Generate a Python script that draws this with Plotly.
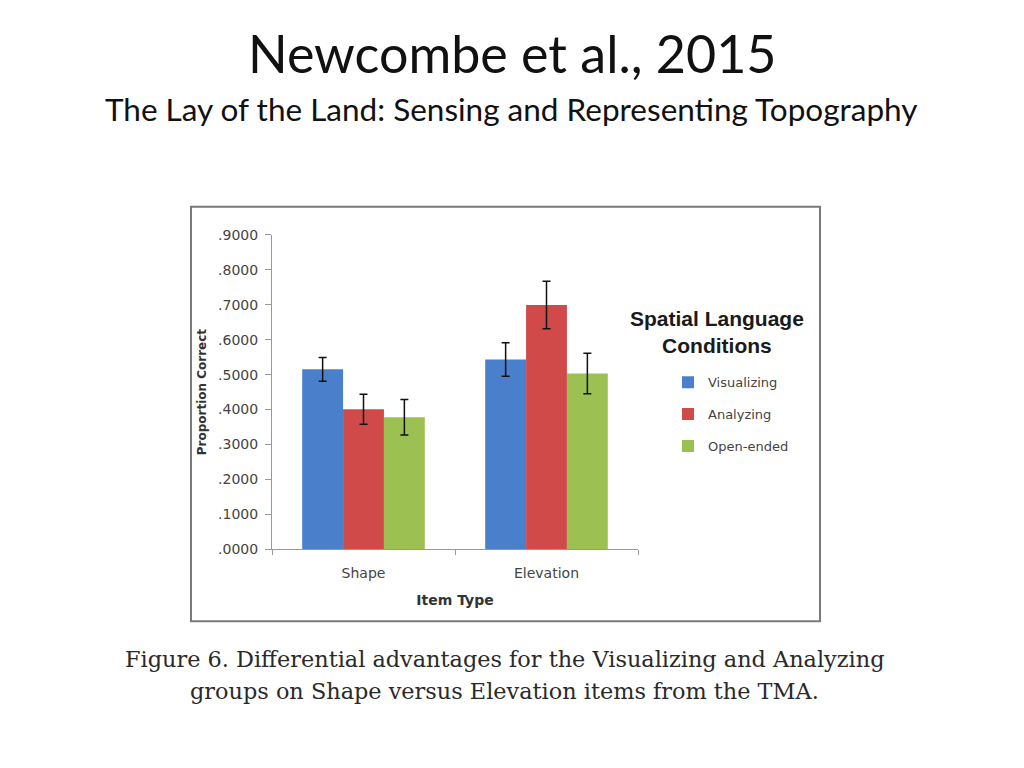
import plotly.graph_objects as go

# values
item_types = ["Shape", "Elevation"]
conditions = ["Visualizing", "Analyzing", "Open-ended"]
colors = ["#4a7fcb", "#d14a4a", "#9cc152"]
means = {
    "Visualizing": [0.515, 0.543],
    "Analyzing": [0.401, 0.699],
    "Open-ended": [0.378, 0.503],
}
errors = {
    "Visualizing": [0.034, 0.048],
    "Analyzing": [0.043, 0.068],
    "Open-ended": [0.051, 0.058],
}
y_ticks = [0.0, 0.1, 0.2, 0.3, 0.4, 0.5, 0.6, 0.7, 0.8, 0.9]
y_tick_labels = [("%.4f" % v)[1:] for v in y_ticks]

# the page body keeps an 8px margin all round, so the figure is made
# 16px smaller to fit the window without scrolling
OFF = 8
W, H = 1024 - 2 * OFF, 768 - 2 * OFF


def px(x):
    return (x - OFF) / W


def py(y):
    # screen y of the slide -> paper fraction (small vertical squeeze seen in the capture)
    y = (y - 6.6) / 0.9825
    return 1 - (y - OFF) / H


fig = go.Figure()
for i, c in enumerate(conditions):
    fig.add_trace(go.Bar(
        x=item_types, y=means[c], name=c, legendgroup=c,
        marker=dict(color=colors[i], line=dict(width=0)),
        error_y=dict(type="data", array=errors[c], color="#111111",
                     thickness=1.5, width=4),
    ))

fig.update_layout(
    width=W, height=H,
    margin=dict(l=0, r=0, t=0, b=0),
    paper_bgcolor="white", plot_bgcolor="white",
    barmode="group", bargap=0.33, bargroupgap=0,
    showlegend=True,
    legend=dict(x=px(668), y=py(367), xanchor="left", yanchor="top",
                font=dict(family="DejaVu Sans", size=13, color="#444444"),
                tracegroupgap=12, itemwidth=30, bgcolor="rgba(0,0,0,0)"),
    xaxis=dict(domain=[px(272), px(638)], showline=True, linecolor="#999999",
               linewidth=1, ticks="outside", tickson="boundaries", ticklen=5,
               tickcolor="#999999", ticklabelstandoff=11,
               tickfont=dict(family="DejaVu Sans", size=14, color="#444444"),
               title=dict(text="<b>Item Type</b>", standoff=14,
                          font=dict(family="DejaVu Sans", size=14, color="#333333"))),
    yaxis=dict(domain=[py(550), py(234)], range=[0, 0.9], showline=True,
               linecolor="#999999", linewidth=1, ticks="outside", ticklen=6,
               tickcolor="#999999", showgrid=False, zeroline=False,
               tickvals=y_ticks, ticktext=y_tick_labels, ticklabelstandoff=4,
               tickfont=dict(family="DejaVu Sans", size=14, color="#444444"),
               title=dict(text="<b>Proportion Correct</b>", standoff=8,
                          font=dict(family="DejaVu Sans", size=12, color="#333333"))),
    font=dict(family="Lato"),
)

# slide titles
fig.add_annotation(x=px(512), y=py(52), xref="paper", yref="paper", showarrow=False,
                   xanchor="center", yanchor="middle",
                   text="Newcombe et al., 2015",
                   font=dict(family="Lato", size=52, color="#111111"))
fig.add_annotation(x=px(511), y=py(108), xref="paper", yref="paper", showarrow=False,
                   xanchor="center", yanchor="middle",
                   text="The Lay of the Land: Sensing and Representing Topography",
                   font=dict(family="Lato", size=31.5, color="#111111"))

# legend heading
fig.add_annotation(x=px(717), y=py(332), xref="paper", yref="paper", showarrow=False,
                   xanchor="center", yanchor="middle",
                   text="<b>Spatial Language<br>Conditions</b>", align="center",
                   font=dict(family="Liberation Sans", size=21, color="#1a1a1a"))

# caption, two lines
caption = ["Figure 6. Differential advantages for the Visualizing and Analyzing",
           "groups on Shape versus Elevation items from the TMA."]
for line, yy in zip(caption, [660, 692]):
    fig.add_annotation(x=px(504), y=py(yy), xref="paper", yref="paper", showarrow=False,
                       xanchor="center", yanchor="middle", text=line,
                       font=dict(family="DejaVu Serif", size=22.4, color="#2a2a2a"))

# frame of the pasted figure
fig.add_shape(type="rect", xref="paper", yref="paper",
              x0=px(191), x1=px(820), y0=py(622), y1=py(206),
              line=dict(color="#7a7a7a", width=2), fillcolor="rgba(0,0,0,0)")

fig.write_html("out.html")
